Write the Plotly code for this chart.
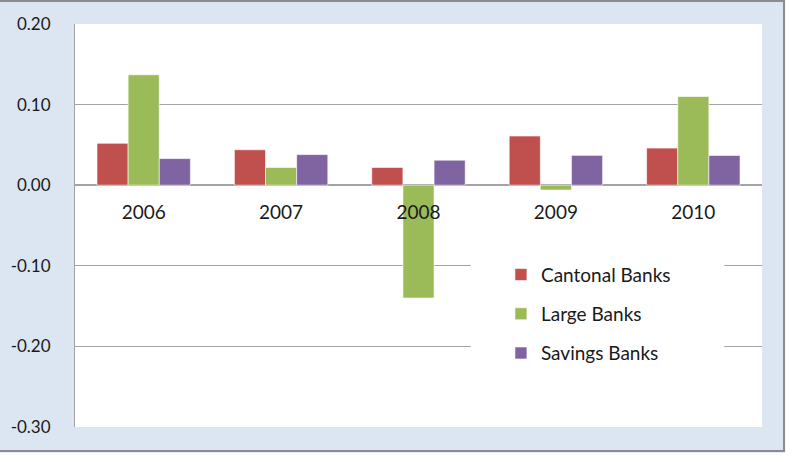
import plotly.graph_objects as go

# Data
years = ["2006", "2007", "2008", "2009", "2010"]
cantonal = [0.052, 0.044, 0.022, 0.061, 0.046]
large = [0.137, 0.022, -0.140, -0.006, 0.110]
savings = [0.033, 0.038, 0.031, 0.037, 0.037]

y_ticks = [0.20, 0.10, 0.00, -0.10, -0.20, -0.30]
y_labels = ["0.20", "0.10", "0.00", "-0.10", "-0.20", "-0.30"]

series = [
    ("Cantonal Banks", cantonal, "#C0504D"),
    ("Large Banks", large, "#9BBB59"),
    ("Savings Banks", savings, "#8064A2"),
]

font_family = "Lato, 'Open Sans', sans-serif"

fig = go.Figure()

for name, values, color in series:
    fig.add_trace(go.Bar(
        x=years,
        y=values,
        name=name,
        legendgroup=name,
        marker=dict(color=color, line=dict(color="rgba(255,255,255,0.6)", width=1)),
    ))

fig.update_layout(
    width=787,
    height=460,
    margin=dict(l=75, r=25, t=24, b=33),
    paper_bgcolor="#DCE6F2",
    plot_bgcolor="white",
    barmode="group",
    bargap=0.32,
    bargroupgap=0,
    font=dict(family=font_family, color="#1a1a1a"),
    xaxis=dict(
        anchor="free",
        position=0.6,
        showgrid=False,
        showline=False,
        ticks="",
        tickfont=dict(size=19),
        ticklabelstandoff=14,
    ),
    yaxis=dict(
        range=[-0.3, 0.2],
        tickvals=y_ticks,
        ticktext=y_labels,
        tickfont=dict(size=17),
        ticklabelstandoff=20,
        showgrid=True,
        gridcolor="#A3A3A3",
        gridwidth=1,
        zeroline=True,
        zerolinecolor="#A3A3A3",
        zerolinewidth=1.5,
        showline=True,
        linecolor="#A3A3A3",
        linewidth=1,
    ),
    legend=dict(
        x=0.62,
        y=0.425,
        xanchor="left",
        yanchor="top",
        bgcolor="rgba(0,0,0,0)",
        font=dict(size=19),
        itemwidth=30,
        tracegroupgap=11.5,
    ),
    showlegend=True,
)

# White panel behind the legend (hides gridlines like the original)
fig.add_shape(type="rect", xref="paper", yref="y",
              x0=0.576, x1=0.945, y0=-0.27, y1=-0.085,
              fillcolor="white", line=dict(width=0), layer="above")

# Outer border of the chart box and white strips outside it
fig.add_shape(type="rect", xref="paper", yref="paper",
              x0=-0.2, x1=1.2, y0=-0.064, y1=-0.1,
              fillcolor="white", line=dict(width=0), layer="above")
fig.add_shape(type="rect", xref="paper", yref="paper",
              x0=1.034, x1=1.2, y0=-0.1, y1=1.1,
              fillcolor="white", line=dict(width=0), layer="above")
fig.add_shape(type="rect", xref="paper", yref="paper",
              x0=-0.13, x1=1.032, y0=-0.0597, y1=1.057,
              fillcolor="rgba(0,0,0,0)", line=dict(color="#8C8C8C", width=2), layer="above")

fig.write_html("out.html", config={"displayModeBar": False},
               post_script="document.body.style.margin='0';")
